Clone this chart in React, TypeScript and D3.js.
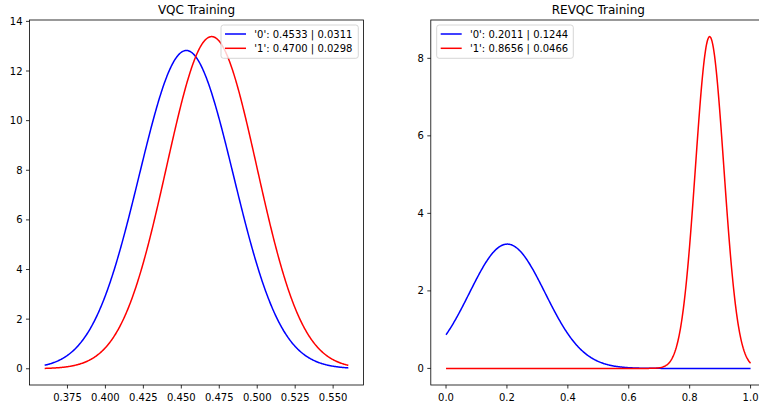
import React from "react";
import * as d3 from "d3";

// ---- data (legend: mean | std of each fitted normal density) ----
const seriesLabels = ["'0'", "'1'"];
const seriesColors = ["#0000ff", "#ff0000"];

const vqcTitle = "VQC Training";
const vqcMeans = [0.4533, 0.47];
const vqcStds = [0.0311, 0.0298];
const vqcXRange = [0.36, 0.56];
const vqcXTicks = [0.375, 0.4, 0.425, 0.45, 0.475, 0.5, 0.525, 0.55];
const vqcYTicks = [0, 2, 4, 6, 8, 10, 12, 14];

const revqcTitle = "REVQC Training";
const revqcMeans = [0.2011, 0.8656];
const revqcStds = [0.1244, 0.0466];
const revqcXRange = [0, 1];
const revqcXTicks = [0, 0.2, 0.4, 0.6, 0.8, 1.0];
const revqcYTicks = [0, 2, 4, 6, 8];

const W = 759;
const H = 404;
const FONT = "'DejaVu Sans', sans-serif";

function density(mu: number, sd: number, x: number) {
  const z = (x - mu) / sd;
  return Math.exp(-0.5 * z * z) / (sd * Math.sqrt(2 * Math.PI));
}

interface PanelProps {
  title: string;
  means: number[];
  stds: number[];
  xRange: number[];
  xTicks: number[];
  yTicks: number[];
  xFmt: (v: number) => string;
  left: number;
  right: number;
  top: number;
  bottom: number;
  legendX: number;
  legendW: number;
}

function Panel(p: PanelProps) {
  const n = 500;
  const xs = d3.range(n).map((i) => p.xRange[0] + ((p.xRange[1] - p.xRange[0]) * i) / (n - 1));
  const curves = p.means.map((m, k) => xs.map((x) => [x, density(m, p.stds[k], x)] as [number, number]));
  const allY = curves.flat().map((d) => d[1]);
  const yMin = d3.min(allY) as number;
  const yMax = d3.max(allY) as number;
  const xSpan = p.xRange[1] - p.xRange[0];
  const ySpan = yMax - yMin;
  const x = d3
    .scaleLinear()
    .domain([p.xRange[0] - 0.05 * xSpan, p.xRange[1] + 0.05 * xSpan])
    .range([p.left, p.right]);
  const y = d3
    .scaleLinear()
    .domain([yMin - 0.05 * ySpan, yMax + 0.05 * ySpan])
    .range([p.bottom, p.top]);
  const line = d3
    .line<[number, number]>()
    .x((d) => x(d[0]))
    .y((d) => y(d[1]));

  const ly = p.top + 5;
  const lh = 33.3;
  return (
    <g>
      <text
        x={(p.left + p.right) / 2}
        y={p.top - 6}
        textAnchor="middle"
        fontSize={12}
        fontFamily={FONT}
        fill="#000"
      >
        {p.title}
      </text>
      {curves.map((c, k) => (
        <path key={k} d={line(c) || ""} fill="none" stroke={seriesColors[k]} strokeWidth={1.5} />
      ))}
      <rect
        x={p.left}
        y={p.top}
        width={p.right - p.left}
        height={p.bottom - p.top}
        fill="none"
        stroke="#000"
        strokeWidth={0.8}
      />
      {p.xTicks.map((t) => (
        <g key={"x" + t}>
          <line x1={x(t)} x2={x(t)} y1={p.bottom} y2={p.bottom + 3.5} stroke="#000" strokeWidth={0.8} />
          <text
            x={x(t)}
            y={p.bottom + 15.8}
            textAnchor="middle"
            fontSize={10}
            fontFamily={FONT}
            fill="#000"
          >
            {p.xFmt(t)}
          </text>
        </g>
      ))}
      {p.yTicks.map((t) => (
        <g key={"y" + t}>
          <line x1={p.left - 3.5} x2={p.left} y1={y(t)} y2={y(t)} stroke="#000" strokeWidth={0.8} />
          <text
            x={p.left - 7}
            y={y(t) + 3.6}
            textAnchor="end"
            fontSize={10}
            fontFamily={FONT}
            fill="#000"
          >
            {t}
          </text>
        </g>
      ))}
      <rect
        x={p.legendX}
        y={ly}
        width={p.legendW}
        height={lh}
        rx={2.5}
        fill="#fff"
        fillOpacity={0.8}
        stroke="#cccccc"
        strokeWidth={0.8}
      />
      {seriesLabels.map((lab, k) => {
        const cy = ly + 9 + k * 14.3;
        return (
          <g key={"l" + k}>
            <line
              x1={p.legendX + 4}
              x2={p.legendX + 25}
              y1={cy}
              y2={cy}
              stroke={seriesColors[k]}
              strokeWidth={1.5}
            />
            <text
              x={p.legendX + 33.3}
              y={cy + 3.6}
              fontSize={10}
              fontFamily={FONT}
              fill="#000"
            >
              {`${lab}: ${p.means[k].toFixed(4)} | ${p.stds[k].toFixed(4)}`}
            </text>
          </g>
        );
      })}
    </g>
  );
}

export default function App() {
  return (
    <svg
      width={W}
      height={H}
      viewBox={`0 0 ${W} ${H}`}
      style={{ position: "absolute", left: 0, top: 0, background: "#fff" }}
    >
      <rect x={0} y={0} width={W} height={H} fill="#fff" />
      <Panel
        title={vqcTitle}
        means={vqcMeans}
        stds={vqcStds}
        xRange={vqcXRange}
        xTicks={vqcXTicks}
        yTicks={vqcYTicks}
        xFmt={(v) => v.toFixed(3)}
        left={29.5}
        right={363.5}
        top={20}
        bottom={385}
        legendX={221}
        legendW={137.3}
      />
      <Panel
        title={revqcTitle}
        means={revqcMeans}
        stds={revqcStds}
        xRange={revqcXRange}
        xTicks={revqcXTicks}
        yTicks={revqcYTicks}
        xFmt={(v) => v.toFixed(1)}
        left={430.8}
        right={765.8}
        top={20}
        bottom={385}
        legendX={436.7}
        legendW={136.6}
      />
    </svg>
  );
}
